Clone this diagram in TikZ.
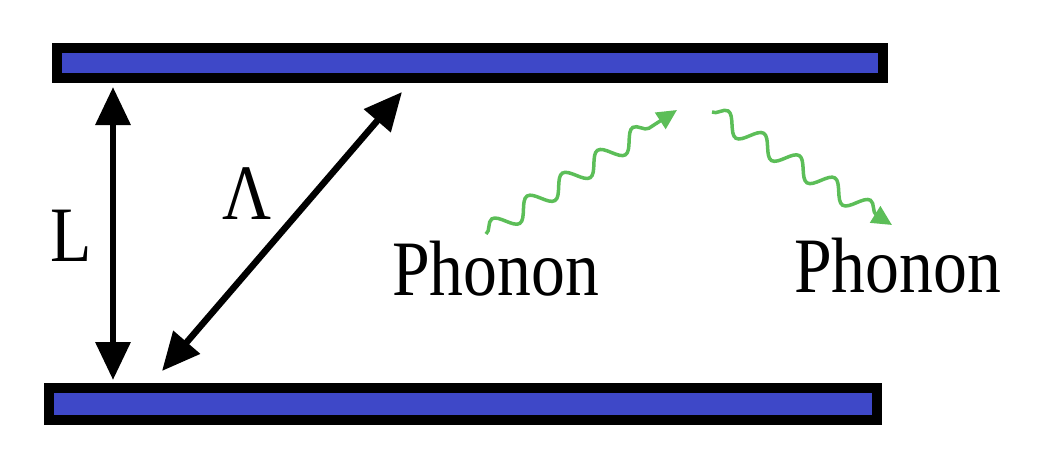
\documentclass[tikz,border=0pt]{standalone}
\usepackage{fontspec}
\setmainfont{Liberation Serif}
\usetikzlibrary{arrows.meta,decorations.pathmorphing}
\definecolor{barblue}{RGB}{62,72,200}
\definecolor{phgreen}{RGB}{92,190,88}
\tikzset{
  plate/.style={draw=black, fill=barblue, line width=10pt, rectangle, inner sep=0pt},
  blackarrow/.style={line width=6.5pt, {Triangle[length=38pt,width=34pt]}-{Triangle[length=38pt,width=34pt]}},
  wave/.style={draw=phgreen, line width=3.5pt, -{Triangle[length=20pt,width=19pt]}, decorate,
    decoration={snake, amplitude=9.5pt, segment length=42pt, post length=16pt}},
  lbl/.style={inner sep=0pt, anchor=base west, font=\fontsize{78.5}{80}\selectfont}
}
\begin{document}
\begin{tikzpicture}[x=1pt,y=-1pt]
\useasboundingbox (0,0) rectangle (1052,455);
\node[plate, minimum width=826pt, minimum height=30pt] (top) at (470,63) {};
\node[plate, minimum width=828pt, minimum height=32pt] (bot) at (463,404) {};
\coordinate (vt) at (113,87);
\coordinate (vb) at (113,380);
\coordinate (dt) at (402,92);
\coordinate (db) at (162,371);
\draw[blackarrow] (vb) -- (vt);
\draw[blackarrow] (db) -- (dt);
\coordinate (w1s) at (486,234);
\coordinate (w1e) at (677,110);
\coordinate (w2s) at (712,112);
\coordinate (w2e) at (892,225);
\draw[wave] (w1s) -- (w1e);
\draw[wave] (w2s) -- (w2e);
\node[lbl] (L) at (50,261) {\scalebox{0.862}[1]{L}};
\node[lbl] (lam) at (222,219) {\scalebox{0.862}[1]{Λ}};
\node[lbl] (ph1) at (392,295) {\scalebox{0.862}[1]{Phonon}};
\node[lbl] (ph2) at (794,292) {\scalebox{0.862}[1]{Phonon}};
\end{tikzpicture}
\end{document}
